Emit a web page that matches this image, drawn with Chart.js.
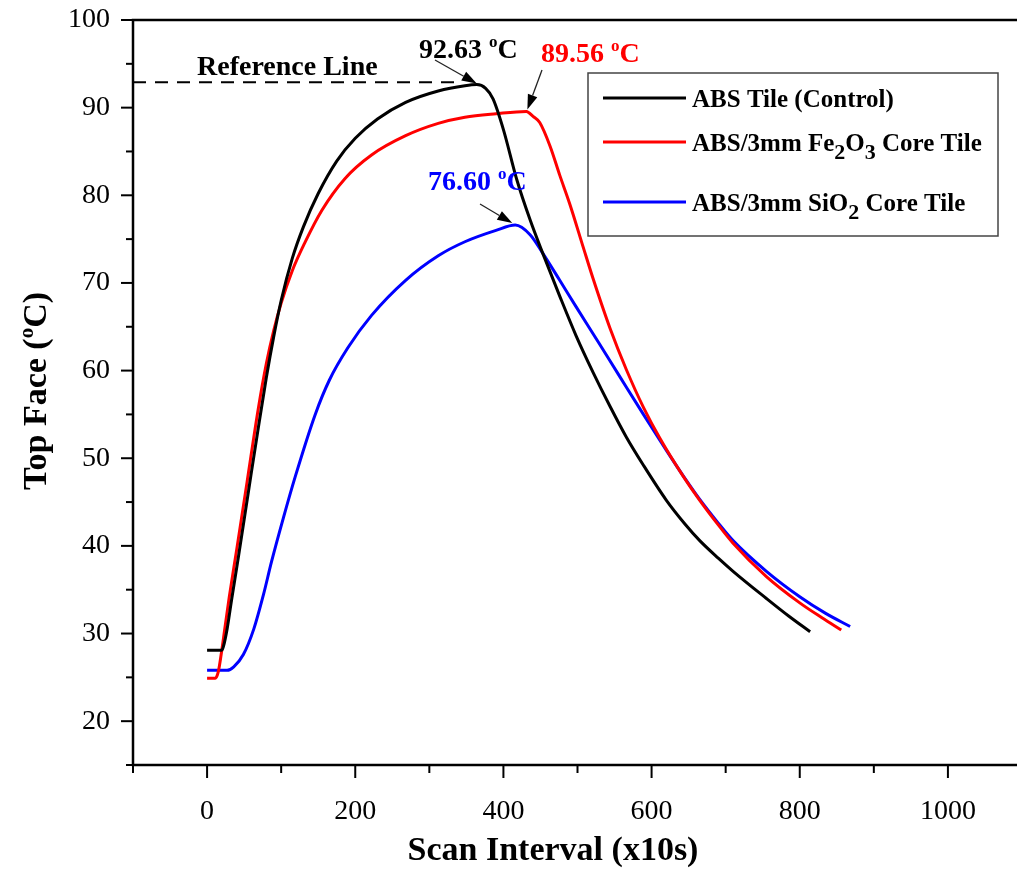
<!DOCTYPE html>
<html>
<head>
<meta charset="utf-8">
<script src="https://cdn.jsdelivr.net/npm/chart.js@4.4.1/dist/chart.umd.min.js"></script>
<style>
	html, body { margin: 0; padding: 0; background: #fff; overflow: hidden; }
	#wrap { width: 1030px; height: 870px; }
</style>
</head>
<body>
<div id="wrap"><canvas id="chart" width="1030" height="870"></canvas></div>
<script>
// Top face temperature vs scan interval for the three tiles
const scanAbs = [0, 10, 20, 22, 27, 33, 42, 56, 69, 80, 90, 100, 115, 130, 150, 175, 200, 230, 268, 312, 348, 364, 376, 386, 400, 418, 436, 453, 476, 498, 521, 544, 566, 589, 620, 645, 665, 690, 710, 755, 785, 814];
const tempAbs = [28.1, 28.1, 28.1, 28.5, 30.5, 33.8, 38.6, 46.3, 53.4, 59.2, 63.9, 68.0, 72.8, 76.4, 80.2, 83.9, 86.5, 88.7, 90.6, 91.9, 92.5, 92.63, 92.2, 91.0, 87.5, 81.8, 77.2, 73.4, 68.5, 64.0, 59.8, 55.9, 52.4, 49.2, 45.2, 42.5, 40.6, 38.6, 37.1, 34.0, 32.0, 30.2];

const scanFe = [0, 11, 15, 19, 24, 30, 40, 54, 69, 80, 90, 100, 115, 132, 155, 186, 222, 268, 312, 348, 390, 431, 440, 449, 463, 476, 490, 508, 521, 544, 566, 589, 611, 643, 665, 690, 710, 755, 800, 830, 856];
const tempFe = [24.9, 24.9, 25.6, 27.6, 30.6, 34.2, 39.6, 47.3, 55.6, 60.8, 64.6, 67.7, 71.4, 74.6, 78.3, 81.9, 84.6, 86.8, 88.2, 88.9, 89.3, 89.56, 89.0, 88.3, 85.6, 82.3, 78.9, 74.0, 70.5, 64.8, 60.1, 55.8, 52.3, 47.9, 45.2, 42.4, 40.3, 36.5, 33.5, 31.8, 30.4];

const scanSi = [0, 27, 36, 49, 63, 76, 87, 103, 119, 146, 165, 190, 222, 268, 312, 348, 390, 416, 436, 453, 476, 498, 521, 544, 566, 589, 620, 645, 665, 690, 710, 755, 800, 835, 868];
const tempSi = [25.8, 25.8, 26.2, 27.6, 30.5, 34.4, 38.2, 43.2, 47.9, 55.0, 58.9, 62.6, 66.3, 70.3, 73.1, 74.7, 76.0, 76.6, 75.5, 73.4, 70.3, 67.3, 64.2, 61.1, 58.1, 55.0, 50.9, 47.7, 45.3, 42.6, 40.6, 37.1, 34.2, 32.3, 30.8];

const refLineScan = [-100, 342];
const refLineTemp = 92.9;

const seriesNames = ['ABS Tile (Control)', 'ABS/3mm Fe_2O_3 Core Tile', 'ABS/3mm SiO_2 Core Tile'];
const seriesColors = ['#000000', '#ff0000', '#0000ff'];
const peakLabels = ['92.63', '89.56', '76.60'];

const xTickLabels = [0, 200, 400, 600, 800, 1000];
const yTickLabels = [20, 30, 40, 50, 60, 70, 80, 90, 100];

const FONT = '"Liberation Serif", "Times New Roman", serif';

function toPoints(xs, ys) {
	return xs.map((x, i) => ({ x: x, y: ys[i] }));
}

// splits "Fe_2O_3" / "(^oC)" into plain, sub and sup runs
function richRuns(text) {
	const runs = [];
	for (let i = 0; i < text.length; i++) {
		const c = text[i];
		if ((c === '^' || c === '_') && i + 1 < text.length) {
			runs.push({ t: text[i + 1], mode: c });
			i++;
		} else {
			const last = runs[runs.length - 1];
			if (last && !last.mode) last.t += c;
			else runs.push({ t: c, mode: null });
		}
	}
	return runs;
}

function drawRich(ctx, text, x, y, size, color, align) {
	const runs = richRuns(text);
	const fontFor = r => {
		let s = size;
		if (r.mode === '^') s = Math.round(size * 0.62);
		if (r.mode === '_') s = Math.round(size * 0.86);
		return `bold ${s}px ${FONT}`;
	};
	let w = 0;
	runs.forEach(r => {
		ctx.font = fontFor(r);
		r.w = ctx.measureText(r.t).width;
		w += r.w;
	});
	let cx = align === 'center' ? x - w / 2 : x;
	ctx.fillStyle = color;
	ctx.textAlign = 'left';
	ctx.textBaseline = 'alphabetic';
	runs.forEach(r => {
		ctx.font = fontFor(r);
		let dy = 0;
		if (r.mode === '^') dy = -size * 0.38;
		if (r.mode === '_') dy = size * 0.32;
		ctx.fillText(r.t, cx, y + dy);
		cx += r.w;
	});
}

function drawArrow(ctx, x0, y0, x1, y1) {
	const a = Math.atan2(y1 - y0, x1 - x0);
	const hl = 15, hw = 5;
	const bx = x1 - hl * Math.cos(a), by = y1 - hl * Math.sin(a);
	ctx.strokeStyle = '#222';
	ctx.lineWidth = 1.3;
	ctx.beginPath();
	ctx.moveTo(x0, y0);
	ctx.lineTo(bx, by);
	ctx.stroke();
	ctx.fillStyle = '#000';
	ctx.beginPath();
	ctx.moveTo(x1, y1);
	ctx.lineTo(bx + hw * Math.sin(a), by - hw * Math.cos(a));
	ctx.lineTo(bx - hw * Math.sin(a), by + hw * Math.cos(a));
	ctx.closePath();
	ctx.fill();
}

function peakPixel(chart, xs, ys) {
	let k = 0;
	ys.forEach((v, i) => { if (v > ys[k]) k = i; });
	return {
		x: chart.scales.x.getPixelForValue(xs[k]),
		y: chart.scales.y.getPixelForValue(ys[k])
	};
}

const figurePlugin = {
	id: 'figure',
	afterDraw(chart) {
		const ctx = chart.ctx;
		const { left, right, top, bottom } = chart.chartArea;
		const xs = chart.scales.x, ys = chart.scales.y;
		ctx.save();

		// frame
		ctx.strokeStyle = '#000';
		ctx.lineWidth = 2.5;
		ctx.strokeRect(left, top, right - left, bottom - top);

		// major / minor ticks, pointing out
		ctx.lineWidth = 2;
		for (let v = -100; v <= 1100; v += 100) {
			const px = xs.getPixelForValue(v);
			const len = v % 200 === 0 ? 13 : 8;
			ctx.beginPath();
			ctx.moveTo(px, bottom);
			ctx.lineTo(px, bottom + len);
			ctx.stroke();
		}
		for (let v = 15; v <= 100; v += 5) {
			const py = ys.getPixelForValue(v);
			const len = v % 10 === 0 ? 12 : 7;
			ctx.beginPath();
			ctx.moveTo(left - len, py);
			ctx.lineTo(left, py);
			ctx.stroke();
		}

		// axis titles
		drawRich(ctx, 'Scan Interval (x10s)', 553, 860, 34, '#000', 'center');
		ctx.save();
		ctx.translate(35, 391);
		ctx.rotate(-Math.PI / 2);
		drawRich(ctx, 'Top Face (^oC)', 0, 11, 34, '#000', 'center');
		ctx.restore();

		// legend
		const box = { x: 588, y: 73, w: 410, h: 163 };
		ctx.strokeStyle = '#444';
		ctx.lineWidth = 1.5;
		ctx.strokeRect(box.x, box.y, box.w, box.h);
		const rows = [98, 142, 202];
		seriesNames.forEach((name, i) => {
			ctx.strokeStyle = seriesColors[i];
			ctx.lineWidth = 3;
			ctx.beginPath();
			ctx.moveTo(603, rows[i]);
			ctx.lineTo(686, rows[i]);
			ctx.stroke();
			drawRich(ctx, name, 692, rows[i] + 9, 25, '#000', 'left');
		});

		// reference line caption and peak call-outs
		drawRich(ctx, 'Reference Line', 197, 75, 28, '#000', 'left');

		const pA = peakPixel(chart, scanAbs, tempAbs);
		const pF = peakPixel(chart, scanFe, tempFe);
		const pS = peakPixel(chart, scanSi, tempSi);

		drawRich(ctx, peakLabels[0] + ' ^oC', 419, 58, 28, seriesColors[0], 'left');
		drawArrow(ctx, 435, 60, pA.x, pA.y - 1);

		drawRich(ctx, peakLabels[1] + ' ^oC', 541, 62, 28, seriesColors[1], 'left');
		drawArrow(ctx, 542, 70, pF.x + 1, pF.y - 2);

		drawRich(ctx, peakLabels[2] + ' ^oC', 428, 190, 28, seriesColors[2], 'left');
		drawArrow(ctx, 480, 204, pS.x - 3, pS.y - 2);

		ctx.restore();
	}
};

const datasets = [
	{
		label: 'Reference Line',
		data: refLineScan.map(x => ({ x: x, y: refLineTemp })),
		borderColor: '#000',
		borderWidth: 2,
		borderDash: [13, 9]
	}
];
[[scanAbs, tempAbs], [scanFe, tempFe], [scanSi, tempSi]].forEach((pair, i) => {
	datasets.push({
		label: seriesNames[i].replace(/_/g, ''),
		data: toPoints(pair[0], pair[1]),
		borderColor: seriesColors[i],
		borderWidth: 3,
		cubicInterpolationMode: 'monotone'
	});
});

new Chart(document.getElementById('chart'), {
	type: 'line',
	data: { datasets: datasets },
	options: {
		responsive: false,
		animation: false,
		devicePixelRatio: 1,
		layout: { padding: { top: 20, right: 8, left: 0, bottom: 0 } },
		plugins: {
			legend: { display: false },
			tooltip: { enabled: false }
		},
		elements: { point: { radius: 0 } },
		scales: {
			x: {
				type: 'linear',
				min: -100,
				max: 1100,
				grid: { display: false },
				border: { display: false },
				afterBuildTicks: s => { s.ticks = xTickLabels.map(v => ({ value: v })); },
				afterFit: s => { s.height = 105; s.paddingLeft = 0; s.paddingRight = 0; },
				ticks: {
					autoSkip: false,
					maxRotation: 0,
					padding: 22,
					color: '#000',
					font: { family: FONT, size: 28 },
					callback: v => String(v)
				}
			},
			y: {
				type: 'linear',
				min: 15,
				max: 100,
				grid: { display: false },
				border: { display: false },
				afterBuildTicks: s => { s.ticks = yTickLabels.map(v => ({ value: v })); },
				afterFit: s => { s.width = 133; s.paddingTop = 0; s.paddingBottom = 0; },
				ticks: {
					autoSkip: false,
					padding: 15,
					color: '#000',
					font: { family: FONT, size: 28 },
					callback: v => String(v)
				}
			}
		}
	},
	plugins: [figurePlugin]
});
</script>
</body>
</html>
